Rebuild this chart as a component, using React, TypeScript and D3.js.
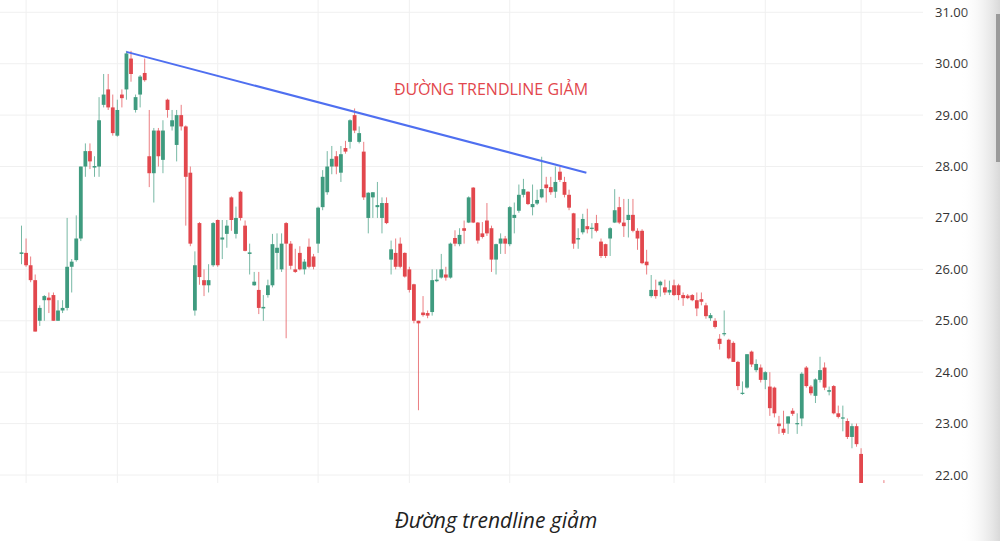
import React from "react";
import * as d3 from "d3";

// OHLC per session (left to right)
const opens = [
  26.30, 26.32, 26.08, 25.79, 25.00, 25.40, 25.45, 25.50, 25.00, 25.20,
  25.25, 26.05, 26.18, 26.60, 28.00, 28.30, 27.98, 28.00, 29.20, 29.50,
  29.15, 28.60, 29.40, 29.50, 30.10, 29.10, 29.40, 29.82, 28.20, 27.87,
  28.70, 28.13, 29.30, 28.78, 28.42, 29.00, 28.78, 27.88, 25.20, 26.90,
  25.79, 25.69, 26.08, 26.96, 26.58, 26.69, 27.40, 26.69, 27.51, 26.85,
  26.30, 25.69, 25.60, 25.24, 25.50, 25.69, 26.32, 26.00, 26.90, 26.50,
  26.00, 26.32, 26.00, 26.44, 26.25, 26.50, 27.21, 27.50, 28.00, 28.20,
  27.88, 28.36, 28.48, 29.00, 28.48, 28.29, 27.00, 27.40, 27.21, 27.00,
  27.29, 26.19, 26.32, 26.50, 26.32, 26.00, 25.71, 25.00, 25.16, 25.15,
  25.17, 25.77, 25.84, 25.90, 25.84, 26.61, 26.49, 26.80, 26.91, 27.59,
  26.91, 26.70, 26.95, 26.80, 26.19, 26.50, 26.60, 26.49, 27.00, 27.14,
  27.45, 27.51, 27.21, 27.28, 27.40, 27.65, 27.60, 27.51, 27.90, 27.70,
  27.45, 27.09, 26.58, 26.72, 26.84, 26.79, 26.90, 26.54, 26.49, 26.60,
  26.91, 27.21, 26.91, 26.96, 27.06, 26.75, 26.75, 26.15, 25.48, 25.60,
  25.69, 25.65, 25.55, 25.69, 25.69, 25.50, 25.49, 25.50, 25.40, 25.42,
  25.30, 25.05, 25.00, 24.65, 24.74, 24.63, 24.57, 24.20, 23.58, 23.70,
  24.40, 24.04, 24.09, 23.85, 23.72, 23.70, 23.00, 22.90, 23.00, 23.25,
  22.99, 23.10, 24.09, 23.72, 23.54, 23.85, 24.09, 23.62, 23.73, 23.20,
  23.11, 23.05, 22.74, 22.95, 22.41, 21.55, 21.30, 21.20, 21.50, 21.75,
];
const highs = [
  26.85, 26.60, 26.25, 25.90, 25.30, 25.50, 25.55, 25.55, 25.40, 25.40,
  27.00, 26.20, 27.05, 28.00, 28.45, 28.45, 28.20, 29.35, 29.80, 29.80,
  29.40, 29.30, 29.50, 30.25, 30.25, 29.40, 29.78, 30.10, 29.10, 28.75,
  28.75, 28.90, 29.32, 29.10, 29.10, 29.20, 28.80, 28.00, 26.35, 26.92,
  26.00, 26.10, 26.92, 26.97, 26.96, 26.96, 27.42, 27.22, 27.53, 26.95,
  26.50, 25.95, 25.95, 25.50, 25.80, 26.69, 26.70, 26.70, 26.92, 26.55,
  26.40, 26.45, 26.20, 26.60, 26.30, 27.22, 27.93, 28.30, 28.40, 28.30,
  28.40, 28.50, 28.92, 29.13, 28.78, 28.48, 27.50, 27.50, 27.70, 27.40,
  27.40, 26.56, 26.60, 26.62, 26.33, 26.05, 25.72, 25.00, 25.48, 25.20,
  26.00, 26.00, 26.30, 26.05, 26.52, 26.76, 26.80, 26.95, 27.42, 27.60,
  26.92, 26.92, 27.29, 26.85, 26.50, 26.70, 26.65, 27.23, 27.30, 27.65,
  27.76, 27.52, 27.65, 27.55, 28.19, 27.80, 27.80, 28.00, 28.00, 27.80,
  27.55, 27.10, 26.80, 27.08, 27.18, 26.90, 27.06, 26.60, 26.50, 26.82,
  27.56, 27.41, 27.37, 27.37, 27.37, 26.80, 26.78, 26.38, 25.89, 25.80,
  25.78, 25.80, 25.78, 25.80, 25.72, 25.55, 25.52, 25.52, 25.55, 25.55,
  25.35, 25.15, 25.05, 24.74, 25.20, 24.65, 24.60, 24.22, 23.82, 24.35,
  24.42, 24.25, 24.15, 24.02, 24.00, 23.72, 23.15, 23.25, 23.14, 23.30,
  23.20, 24.00, 24.12, 23.75, 23.88, 24.30, 24.19, 23.72, 23.75, 23.35,
  23.35, 23.10, 23.00, 23.00, 22.52, 21.70, 21.50, 21.60, 21.75, 21.90,
];
const lows = [
  26.10, 26.05, 25.75, 24.79, 24.90, 25.00, 25.15, 25.00, 25.00, 25.15,
  25.20, 25.55, 26.15, 26.55, 27.80, 27.95, 27.80, 27.80, 29.15, 29.10,
  28.60, 28.58, 29.15, 29.30, 29.65, 29.05, 29.15, 29.65, 27.60, 27.30,
  28.00, 27.87, 28.95, 28.70, 28.10, 28.70, 26.85, 26.45, 25.10, 25.70,
  25.48, 25.55, 26.05, 26.05, 26.20, 26.42, 26.75, 26.60, 26.95, 26.35,
  25.90, 25.68, 25.13, 25.00, 25.45, 25.65, 26.00, 25.95, 24.66, 26.00,
  25.93, 25.98, 25.90, 26.02, 26.00, 26.32, 27.15, 27.45, 27.85, 27.85,
  27.70, 28.25, 28.35, 28.65, 28.45, 27.35, 26.70, 27.00, 27.00, 26.70,
  26.88, 25.90, 26.00, 26.02, 25.84, 25.55, 24.95, 23.26, 25.08, 25.05,
  25.10, 25.75, 25.82, 25.78, 25.82, 26.45, 26.45, 26.50, 26.90, 26.90,
  26.50, 26.60, 26.65, 25.95, 25.90, 26.30, 26.30, 26.45, 26.70, 27.10,
  27.40, 27.25, 27.05, 27.25, 27.38, 27.30, 27.45, 27.39, 27.70, 27.40,
  27.15, 26.40, 26.40, 26.68, 26.70, 26.60, 26.72, 26.22, 26.22, 26.26,
  26.90, 26.88, 26.63, 26.62, 26.72, 26.38, 26.10, 25.90, 25.45, 25.43,
  25.47, 25.50, 25.50, 25.48, 25.40, 25.29, 25.42, 25.38, 25.09, 25.30,
  25.04, 25.00, 24.85, 24.44, 24.70, 24.25, 24.20, 23.65, 23.56, 23.68,
  24.10, 24.00, 23.80, 23.67, 23.15, 23.12, 22.80, 22.78, 22.80, 23.15,
  22.80, 22.95, 23.70, 23.55, 23.40, 23.80, 23.65, 23.55, 23.18, 23.10,
  22.85, 22.70, 22.52, 22.55, 21.50, 21.20, 21.00, 21.10, 21.30, 21.50,
];
const closes = [
  26.33, 26.08, 25.79, 24.79, 25.25, 25.48, 25.40, 25.00, 25.20, 25.25,
  26.05, 26.15, 26.60, 28.00, 28.30, 28.10, 28.01, 28.90, 29.40, 29.15,
  28.65, 29.10, 29.33, 30.20, 29.80, 29.35, 29.75, 29.68, 27.87, 28.70,
  28.20, 28.70, 29.10, 28.90, 29.00, 28.78, 27.80, 26.50, 26.08, 25.85,
  25.69, 25.79, 26.90, 26.08, 26.62, 26.85, 26.96, 27.00, 27.00, 26.36,
  26.33, 25.76, 25.25, 25.27, 25.69, 26.49, 26.42, 26.50, 26.50, 26.07,
  25.95, 26.00, 26.15, 26.05, 26.05, 27.20, 27.80, 28.00, 28.15, 28.00,
  28.24, 28.29, 28.90, 28.70, 28.65, 27.40, 27.49, 27.50, 27.25, 27.29,
  26.90, 26.39, 26.05, 26.05, 25.86, 25.60, 25.00, 24.95, 25.11, 25.10,
  25.79, 25.80, 26.00, 25.84, 26.50, 26.50, 26.67, 26.75, 27.40, 26.91,
  26.56, 26.63, 26.70, 26.19, 26.49, 26.60, 26.50, 27.21, 27.06, 27.45,
  27.56, 27.27, 27.27, 27.35, 27.56, 27.58, 27.50, 27.70, 27.74, 27.45,
  27.20, 26.50, 26.61, 26.98, 26.78, 26.81, 26.75, 26.26, 26.26, 26.80,
  27.15, 26.91, 26.84, 27.06, 26.75, 26.60, 26.12, 26.08, 25.60, 25.48,
  25.76, 25.55, 25.60, 25.50, 25.50, 25.44, 25.44, 25.40, 25.24, 25.37,
  25.09, 25.11, 24.88, 24.55, 24.76, 24.27, 24.20, 23.73, 23.60, 24.35,
  24.15, 24.16, 23.85, 24.00, 23.30, 23.20, 22.95, 22.82, 23.14, 23.19,
  23.01, 23.97, 23.73, 23.59, 23.86, 24.04, 23.70, 23.65, 23.20, 23.13,
  23.12, 22.74, 22.95, 22.60, 21.55, 21.30, 21.20, 21.50, 21.60, 21.60,
];

const yTicks = [22, 23, 24, 25, 26, 27, 28, 29, 30, 31];
// session indexes where the month grid lines fall
const monthLines = [1, 21, 43, 65, 85, 107, 143, 163, 184];
// descending trendline: [session index, price]
const trendPoints: [number, number][] = [[23, 30.23], [123.8, 27.88]];

const title = "ĐƯỜNG TRENDLINE GIẢM";
const caption = "Đường trendline giảm";

const UP = "#3f9b7f";
const DOWN = "#e2474d";

export default function App() {
  const width = 1000;
  const height = 541;
  const plotRight = 923;
  const plotBottom = 483;

  const x = d3.scaleLinear().domain([0, 189]).range([21.5, 21.5 + 189 * 4.563]);
  const y = d3.scaleLinear().domain([22, 31]).range([475, 12.3]);
  const bodyW = 3.8;

  const trend = d3.line<[number, number]>()
    .x((d) => x(d[0]))
    .y((d) => y(d[1]));

  return (
    <svg
      width={width}
      height={height}
      style={{ position: "absolute", left: 0, top: 0, background: "#fff" }}
      fontFamily="'Open Sans', 'Noto Sans', sans-serif"
    >
      <defs>
        <linearGradient id="edge" x1="0" x2="1" y1="0" y2="0">
          <stop offset="0" stopColor="#ffffff" stopOpacity={0} />
          <stop offset="1" stopColor="#d9d9d9" />
        </linearGradient>
        <clipPath id="plot">
          <rect x={0} y={0} width={plotRight} height={plotBottom} />
        </clipPath>
      </defs>

      {/* grid */}
      {yTicks.map((t) => (
        <line key={"h" + t} x1={0} x2={plotRight} y1={y(t)} y2={y(t)} stroke="#f0f0f0" strokeWidth={1} />
      ))}
      {monthLines.map((m) => (
        <line key={"v" + m} x1={x(m)} x2={x(m)} y1={0} y2={plotBottom} stroke="#f0f0f0" strokeWidth={1} />
      ))}

      {/* candles */}
      <g clipPath="url(#plot)">
        {opens.map((o, i) => {
          const c = closes[i];
          const col = c >= o ? UP : DOWN;
          const top = y(Math.max(o, c));
          const bot = y(Math.min(o, c));
          return (
            <g key={i}>
              <line
                x1={x(i)} x2={x(i)} y1={y(highs[i])} y2={y(lows[i])}
                stroke={col} strokeOpacity={0.7} strokeWidth={1}
              />
              <rect
                x={x(i) - bodyW / 2} y={top} width={bodyW} height={Math.max(1.2, bot - top)}
                fill={col}
              />
            </g>
          );
        })}
      </g>

      {/* trendline */}
      <path d={trend(trendPoints) || ""} fill="none" stroke="#4f6ff0" strokeWidth={2} />
      <text x={491} y={95} textAnchor="middle" fontSize={16} fill="#e2474d">{title}</text>

      {/* price axis */}
      {yTicks.map((t) => (
        <text key={"l" + t} x={935} y={y(t) + 4.5} fontSize={13} fill="#333">{t.toFixed(2)}</text>
      ))}

      <rect x={960} y={0} width={40} height={height} fill="url(#edge)" />
      <rect x={996} y={14} width={4} height={148} fill="#9a9a9a" />

      <text x={496} y={528} textAnchor="middle" fontSize={21} fontStyle="italic" fill="#222">{caption}</text>
    </svg>
  );
}
